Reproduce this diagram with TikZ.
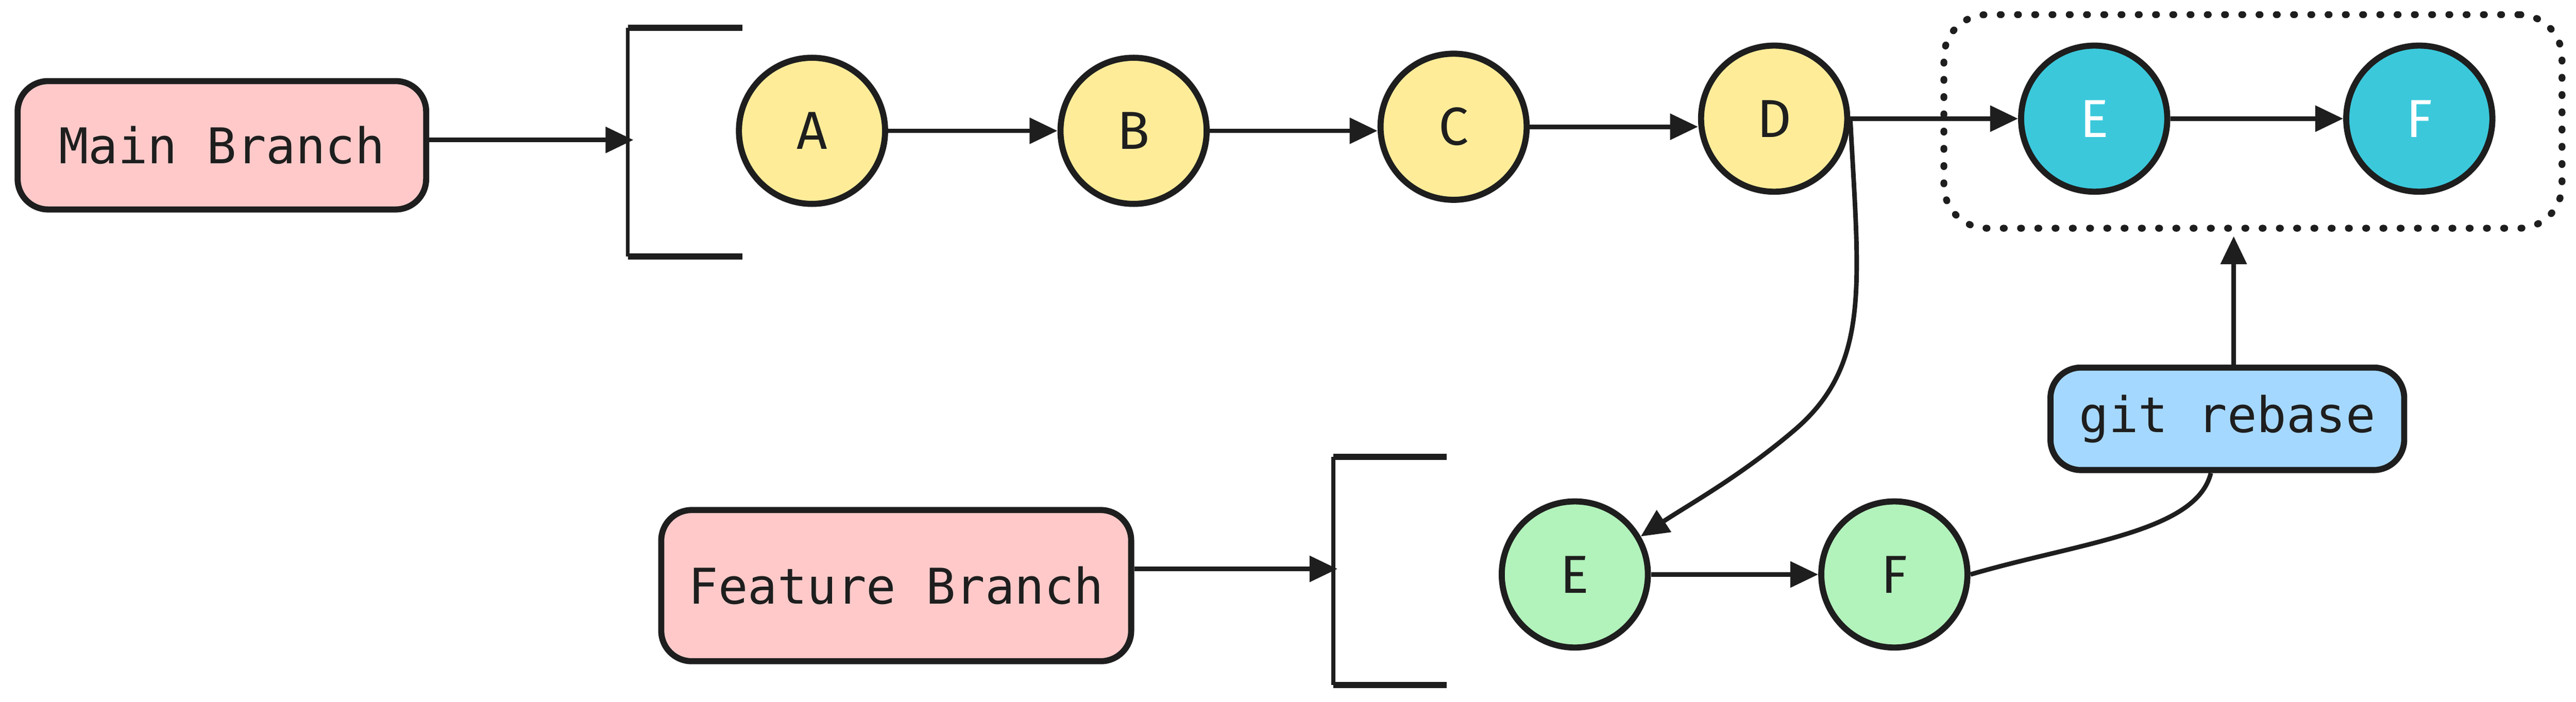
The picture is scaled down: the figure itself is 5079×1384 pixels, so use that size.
\documentclass[tikz,border=0pt]{standalone}
\usepackage{fontspec}
\usetikzlibrary{arrows.meta}
\newfontfamily\monofont{DejaVu Sans Mono}
\newfontfamily\letterfont{Fira Sans}
\definecolor{ink}{HTML}{1E1E1E}
\definecolor{pinkf}{HTML}{FFC9C9}
\definecolor{yellowf}{HTML}{FFEC99}
\definecolor{cyanf}{HTML}{3BC8DB}
\definecolor{greenf}{HTML}{B2F2BB}
\definecolor{bluef}{HTML}{A5D8FF}
\tikzset{
  commit/.style={circle, draw=ink, line width=1.2mm, minimum size=2.88cm, inner sep=0pt,
    font=\letterfont\fontsize{30pt}{32pt}\selectfont, text=ink},
  lbl/.style={rectangle, rounded corners=0.6cm, draw=ink, line width=1.2mm, inner sep=0pt,
    font=\monofont\fontsize{27.6pt}{33pt}\selectfont, text=ink},
  arr/.style={draw=ink, line width=0.9mm, -{Triangle[length=0.55cm,width=0.5cm]}},
  brackv/.style={draw=ink, line width=0.75mm},
  brackt/.style={draw=ink, line width=1.2mm},
  grpbox/.style={rectangle, draw=ink, line width=1.35mm, rounded corners=0.85cm,
    dash pattern=on 0.02cm off 0.32cm, line cap=round, inner sep=0pt},
}
\begin{document}
\begin{tikzpicture}[x=0.01cm, y=-0.01cm]
\useasboundingbox (0,0) rectangle (5079,1384);
% labels
\node[lbl, fill=pinkf, minimum width=8.05cm, minimum height=2.53cm] (mb) at (437.5,286.5) {Main Branch};
\node[lbl, fill=pinkf, minimum width=9.26cm, minimum height=2.98cm] (fb) at (1767,1155) {Feature Branch};
\node[lbl, fill=bluef, minimum width=6.97cm, minimum height=2.02cm] (gr) at (4391.5,826) {git rebase};
% group box
\node[grpbox, minimum width=12.18cm, minimum height=4.21cm] (grp) at (4442,239.5) {};
% commits
\node[commit, fill=yellowf] (A) at (1601,258) {A};
\node[commit, fill=yellowf] (B) at (2235,258) {B};
\node[commit, fill=yellowf] (C) at (2866,250) {C};
\node[commit, fill=yellowf] (D) at (3498,234) {D};
\node[commit, fill=cyanf, text=white] (E) at (4129,234) {E};
\node[commit, fill=cyanf, text=white] (F) at (4770,234) {F};
\node[commit, fill=greenf] (Eb) at (3105,1133) {E};
\node[commit, fill=greenf] (Fb) at (3735,1133) {F};
% brackets
\coordinate (b1t) at (1238,55);
\coordinate (b1b) at (1238,506);
\coordinate (b1m) at (1249,276);
\draw[brackv] (b1t) -- (b1b);
\draw[brackt] (b1t) -- ++(226,0);
\draw[brackt] (b1b) -- ++(226,0);
\coordinate (b2t) at (2629,901);
\coordinate (b2b) at (2629,1351);
\coordinate (b2m) at (2637,1122);
\draw[brackv] (b2t) -- (b2b);
\draw[brackt] (b2t) -- ++(223,0);
\draw[brackt] (b2b) -- ++(223,0);
% connectors
\draw[arr] (mb.east |- b1m) -- (b1m);
\draw[arr] (fb.east |- b2m) -- (b2m);
\draw[arr] (A.east) -- (A.east -| B.west);
\draw[arr] (B.east) -- (B.east -| C.west);
\draw[arr] (C.east) -- (C.east -| D.west);
\draw[arr] (D.east) -- (E.west);
\draw[arr] (E.east) -- (F.west);
\draw[arr] (Eb.east) -- (Fb.west);
\draw[arr] (D.east) .. controls (3665,560) and (3690,720) .. (3536,850)
  .. controls (3430,940) and (3330,995) .. (Eb.30);
\draw[draw=ink, line width=0.9mm] (Fb.east) .. controls (4100,1070) and (4330,1050) .. ([xshift=-0.325cm]gr.south);
\draw[arr, shorten >=0.09cm] ([xshift=0.125cm]gr.north) -- ([xshift=0.125cm]gr.north |- grp.south);
\end{tikzpicture}
\end{document}
